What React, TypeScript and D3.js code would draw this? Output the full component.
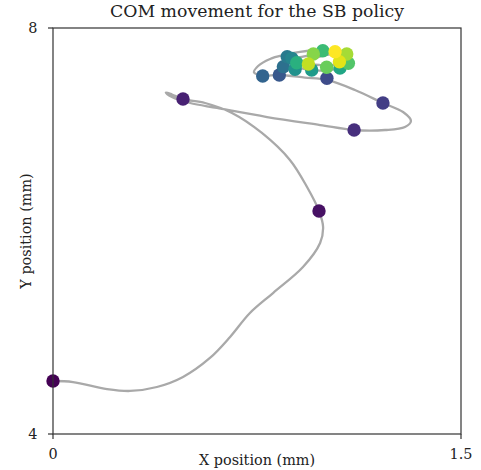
import React from "react";
import * as d3 from "d3";

// Centre-of-mass trajectory (mm), sampled densely enough for a smooth curve
const pathX = [
  0, 0.0735, 0.1985, 0.283, 0.382, 0.478, 0.577, 0.651, 0.724, 0.809, 0.919, 0.982, 0.993, 0.978,
  0.934, 0.871, 0.768, 0.658, 0.559, 0.478, 0.4375, 0.415, 0.4375, 0.504, 0.603, 0.787, 0.982,
  1.107, 1.221, 1.294, 1.316, 1.287, 1.213, 1.11, 1.007, 0.926, 0.831, 0.772, 0.739, 0.754, 0.798,
  0.849, 0.908, 0.993, 1.074, 1.096, 1.055, 0.999, 0.945, 0.893, 0.879, 0.919, 0.974, 1.037, 1.077,
  1.077, 1.037, 0.982, 0.938, 0.967, 1.029,
];
const pathY = [
  4.522, 4.512, 4.443, 4.424, 4.463, 4.562, 4.749, 4.956, 5.192, 5.389, 5.645, 5.882, 6.039, 6.197,
  6.433, 6.7, 6.966, 7.163, 7.261, 7.3, 7.345, 7.365, 7.32, 7.261, 7.212, 7.123, 7.044,
  6.995, 6.995, 7.025, 7.084, 7.172, 7.261, 7.389, 7.488, 7.512, 7.537, 7.532, 7.562, 7.626, 7.695,
  7.734, 7.764, 7.783, 7.754, 7.675, 7.606, 7.581, 7.586, 7.626, 7.685, 7.719, 7.739, 7.764, 7.724,
  7.665, 7.64, 7.635, 7.655, 7.704, 7.744,
];

// Snapshots along the trajectory, in time order (coloured by time)
const dotX = [
  0, 0.978, 0.478, 1.107, 1.213, 1.007, 0.832, 0.771, 0.847, 0.861, 0.878, 0.89, 0.951, 1.055,
  0.896, 0.992, 1.086, 1.006, 0.957, 1.08, 0.939, 1.053, 1.037,
];
const dotY = [
  4.522, 6.197, 7.3, 6.995, 7.261, 7.504, 7.537, 7.527, 7.619, 7.717, 7.701, 7.593, 7.586, 7.606,
  7.658, 7.776, 7.652, 7.613, 7.744, 7.744, 7.645, 7.668, 7.767,
];

const xTicks = [0, 1.5];
const xTickLabels = ["0", "1.5"];
const yTicks = [4, 8];
const yTickLabels = ["4", "8"];

const W = 481;
const H = 470;
const M = { left: 53, right: 461, top: 28, bottom: 434 };
const FONT = "'DejaVu Serif', serif";
const LABEL_SIZE = 14.4;
const TITLE_SIZE = 17.3;

export default function App() {
  const x = d3.scaleLinear().domain([0, 1.5]).range([M.left, M.right]);
  const y = d3.scaleLinear().domain([4, 8]).range([M.bottom, M.top]);
  const color = (i: number) => d3.interpolateViridis(i / (dotX.length - 1));

  const pts: [number, number][] = pathX.map((v, i) => [v, pathY[i]]);
  const line = d3
    .line<[number, number]>()
    .x((d) => x(d[0]))
    .y((d) => y(d[1]))
    .curve(d3.curveCatmullRom.alpha(0.5));

  const cx = (M.left + M.right) / 2;
  const cy = (M.top + M.bottom) / 2;

  return (
    <svg
      width={W}
      height={H}
      style={{ position: "absolute", left: 0, top: 0, background: "#fff" }}
      fontFamily={FONT}
    >
      <rect x={0} y={0} width={W} height={H} fill="#fff" />
      <defs>
        <clipPath id="plot">
          <rect x={M.left} y={M.top} width={M.right - M.left} height={M.bottom - M.top} />
        </clipPath>
      </defs>

      <g clipPath="url(#plot)">
        <path d={line(pts) ?? ""} fill="none" stroke="#a9a9a9" strokeWidth={2.3} />
      </g>
      {dotX.map((v, i) => (
        <circle key={i} cx={x(v)} cy={y(dotY[i])} r={6.7} fill={color(i)} />
      ))}

      {/* frame */}
      <rect
        x={M.left}
        y={M.top}
        width={M.right - M.left}
        height={M.bottom - M.top}
        fill="none"
        stroke="#333"
        strokeWidth={1.2}
      />

      {/* x ticks */}
      {xTicks.map((t, i) => (
        <g key={"xt" + i}>
          <line x1={x(t)} x2={x(t)} y1={M.bottom} y2={M.bottom + 5} stroke="#333" strokeWidth={1.2} />
          <text x={x(t)} y={458.5} fontSize={LABEL_SIZE} textAnchor="middle" fill="#222">
            {xTickLabels[i]}
          </text>
        </g>
      ))}
      {/* y ticks */}
      {yTicks.map((t, i) => (
        <g key={"yt" + i}>
          <line x1={M.left - 5} x2={M.left} y1={y(t)} y2={y(t)} stroke="#333" strokeWidth={1.2} />
          <text x={37.5} y={y(t) + 5} fontSize={LABEL_SIZE} textAnchor="end" fill="#222">
            {yTickLabels[i]}
          </text>
        </g>
      ))}

      <text x={cx} y={17} fontSize={TITLE_SIZE} textAnchor="middle" fill="#222">
        COM movement for the SB policy
      </text>
      <text x={cx} y={464.5} fontSize={LABEL_SIZE} textAnchor="middle" fill="#222">
        X position (mm)
      </text>
      <text
        transform={`translate(31,${cy}) rotate(-90)`}
        fontSize={LABEL_SIZE}
        textAnchor="middle"
        fill="#222"
      >
        Y position (mm)
      </text>
    </svg>
  );
}
